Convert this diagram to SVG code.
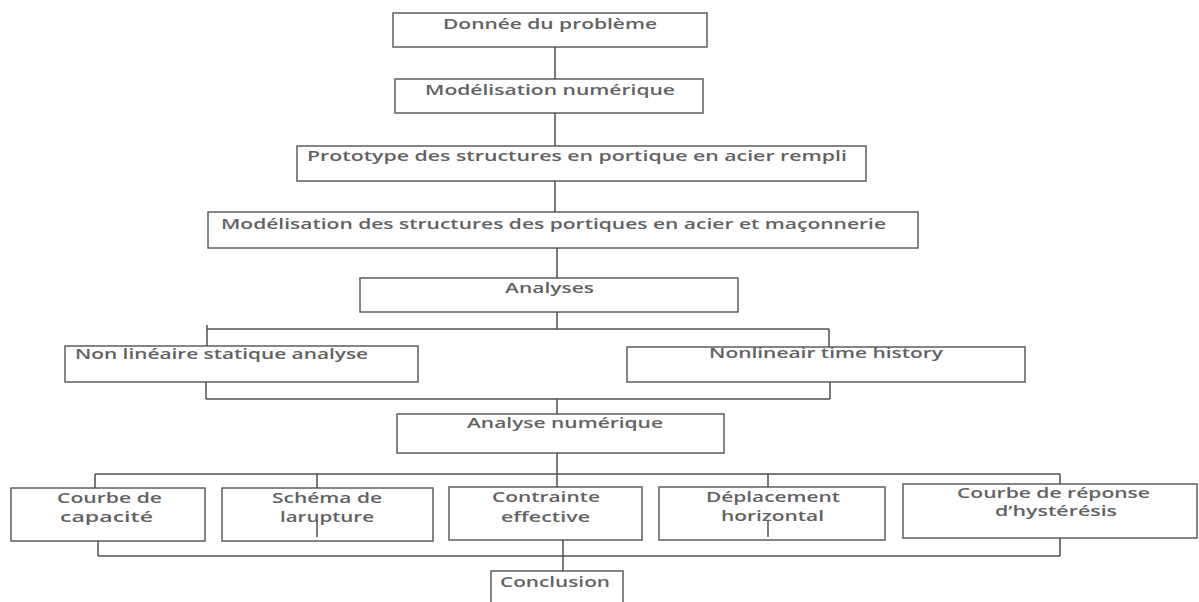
<svg xmlns="http://www.w3.org/2000/svg" width="1199" height="602" viewBox="0 0 1199 602">
  <style>
    .box { fill: #ffffff; stroke: #5e5e5e; stroke-width: 1.5; }
    .lbl { font-family: "Open Sans", "Liberation Sans", sans-serif; font-size: 15px; fill: #626262; font-weight: 600; }
    .wire { stroke: #4e4e4e; stroke-width: 1.5; fill: none; }
  </style>
  <rect x="0" y="0" width="1199" height="602" fill="#ffffff"/>

  <g id="n-donnee">
    <rect class="box" x="393" y="13" width="314" height="34"/>
    <text class="lbl" x="443" y="29" textLength="214" lengthAdjust="spacingAndGlyphs">Donnée du problème</text>
  </g>
  <g id="n-modelisation">
    <rect class="box" x="395" y="79" width="308" height="34"/>
    <text class="lbl" x="425" y="95" textLength="250" lengthAdjust="spacingAndGlyphs">Modélisation numérique</text>
  </g>
  <g id="n-prototype">
    <rect class="box" x="297" y="146" width="569" height="35"/>
    <text class="lbl" x="307" y="161" textLength="540" lengthAdjust="spacingAndGlyphs">Prototype des structures en portique en acier rempli</text>
  </g>
  <g id="n-structures">
    <rect class="box" x="208" y="212" width="710" height="36"/>
    <text class="lbl" x="221" y="229" textLength="665" lengthAdjust="spacingAndGlyphs">Modélisation des structures des portiques en acier et maçonnerie</text>
  </g>
  <g id="n-analyses">
    <rect class="box" x="360" y="278" width="378" height="34"/>
    <text class="lbl" x="505" y="293" textLength="89" lengthAdjust="spacingAndGlyphs">Analyses</text>
  </g>
  <g id="n-statique">
    <rect class="box" x="65" y="346" width="353" height="36"/>
    <text class="lbl" x="75" y="359" textLength="293" lengthAdjust="spacingAndGlyphs">Non linéaire statique analyse</text>
  </g>
  <g id="n-timehistory">
    <rect class="box" x="627" y="347" width="398" height="35"/>
    <text class="lbl" x="709" y="358" textLength="234" lengthAdjust="spacingAndGlyphs">Nonlineair time history</text>
  </g>
  <g id="n-numerique">
    <rect class="box" x="397" y="414" width="327" height="39"/>
    <text class="lbl" x="467" y="428" textLength="196" lengthAdjust="spacingAndGlyphs">Analyse numérique</text>
  </g>
  <g id="n-capacite">
    <rect class="box" x="11" y="488" width="194" height="53"/>
    <text class="lbl" x="57" y="503" textLength="105" lengthAdjust="spacingAndGlyphs">Courbe de</text>
    <text class="lbl" x="60" y="522" textLength="93" lengthAdjust="spacingAndGlyphs">capacité</text>
  </g>
  <g id="n-rupture">
    <rect class="box" x="222" y="488" width="211" height="53"/>
    <text class="lbl" x="272" y="503" textLength="110" lengthAdjust="spacingAndGlyphs">Schéma de</text>
    <text class="lbl" x="280" y="522" textLength="94" lengthAdjust="spacingAndGlyphs">larupture</text>
  </g>
  <g id="n-contrainte">
    <rect class="box" x="449" y="487" width="193" height="53"/>
    <text class="lbl" x="492" y="502" textLength="108" lengthAdjust="spacingAndGlyphs">Contrainte</text>
    <text class="lbl" x="501" y="522" textLength="89" lengthAdjust="spacingAndGlyphs">effective</text>
  </g>
  <g id="n-deplacement">
    <rect class="box" x="659" y="487" width="226" height="53"/>
    <text class="lbl" x="706" y="502" textLength="134" lengthAdjust="spacingAndGlyphs">Déplacement</text>
    <text class="lbl" x="721" y="521" textLength="103" lengthAdjust="spacingAndGlyphs">horizontal</text>
  </g>
  <g id="n-hysteresis">
    <rect class="box" x="903" y="484" width="294" height="54"/>
    <text class="lbl" x="957" y="498" textLength="193" lengthAdjust="spacingAndGlyphs">Courbe de réponse</text>
    <text class="lbl" x="995" y="516" textLength="122" lengthAdjust="spacingAndGlyphs">d’hystérésis</text>
  </g>
  <g id="n-conclusion">
    <rect class="box" x="491" y="571" width="132" height="40"/>
    <text class="lbl" x="500" y="587" textLength="110" lengthAdjust="spacingAndGlyphs">Conclusion</text>
  </g>

  <g id="connectors">
    <line class="wire" x1="555" y1="47" x2="555" y2="79"/>
    <line class="wire" x1="555" y1="113" x2="555" y2="146"/>
    <line class="wire" x1="555" y1="181" x2="555" y2="212"/>
    <line class="wire" x1="557" y1="248" x2="557" y2="278"/>
    <!-- split to the two analysis types -->
    <line class="wire" x1="557" y1="312" x2="557" y2="329"/>
    <line class="wire" x1="207" y1="329" x2="829" y2="329"/>
    <line class="wire" x1="207" y1="325" x2="207" y2="346"/>
    <line class="wire" x1="829" y1="329" x2="829" y2="347"/>
    <!-- merge -->
    <line class="wire" x1="206" y1="382" x2="206" y2="399"/>
    <line class="wire" x1="830" y1="382" x2="830" y2="399"/>
    <line class="wire" x1="206" y1="399" x2="830" y2="399"/>
    <line class="wire" x1="557" y1="399" x2="557" y2="414"/>
    <!-- split to the five results -->
    <line class="wire" x1="557" y1="453" x2="557" y2="487"/>
    <line class="wire" x1="95" y1="474" x2="1060" y2="474"/>
    <line class="wire" x1="95" y1="474" x2="95" y2="488"/>
    <line class="wire" x1="317" y1="474" x2="317" y2="488"/>
    <line class="wire" x1="768" y1="474" x2="768" y2="487"/>
    <line class="wire" x1="1060" y1="474" x2="1060" y2="484"/>
    <line class="wire" x1="317" y1="521" x2="317" y2="537"/>
    <line class="wire" x1="768" y1="521" x2="768" y2="537"/>
    <!-- merge to conclusion -->
    <line class="wire" x1="98" y1="541" x2="98" y2="556"/>
    <line class="wire" x1="1060" y1="538" x2="1060" y2="556"/>
    <line class="wire" x1="98" y1="556" x2="1060" y2="556"/>
    <line class="wire" x1="563" y1="540" x2="563" y2="571"/>
  </g>
</svg>
